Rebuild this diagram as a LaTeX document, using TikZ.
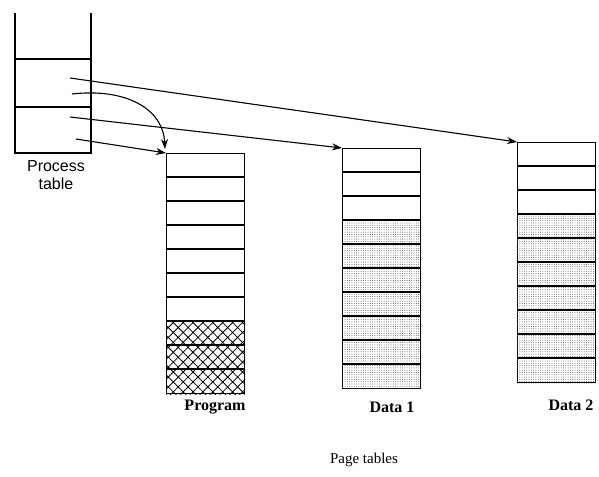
\documentclass[tikz,border=0pt]{standalone}
\usepackage{fontspec}
\setmainfont{Liberation Serif}
\newfontfamily\labelsans{Liberation Sans}
\usetikzlibrary{arrows.meta,patterns.meta,calc}

\begin{document}
\begin{tikzpicture}[x=1pt,y=-1pt]
    \tikzstyle{pagetab} = [rectangle, draw=black, line width=1.2pt, minimum width=78pt, minimum height=240pt, inner sep=0pt, anchor=north west]
    \tikzstyle{row} = [line width=1.1pt]
    \tikzstyle{arrow} = [line width=1.1pt, -{Stealth[length=10pt,width=7pt]}]
    \tikzstyle{hatch} = [pattern={Hatch[angle=45,distance=7pt,line width=0.8pt]}]
    \tikzstyle{stipple} = [pattern={Dots[distance=2.3pt,radius=0.45pt]}, pattern color=black!75]
    \tikzstyle{tablabel} = [font=\fontsize{16}{18}\selectfont\bfseries]

    \useasboundingbox (0,0) rectangle (599,476);

    % Process table
    \draw[line width=1.2pt] (15,13) -- (15,153) -- (91,153) -- (91,13);
    \draw[row] (15,59) -- (91,59);
    \draw[row] (15,107) -- (91,107);
    \node (proclab) [font=\labelsans\fontsize{16}{18}\selectfont, align=center] at (56,175) {Process\\table};

    \coordinate (s1) at (70,78);
    \coordinate (s2) at (72,94);
    \coordinate (s3) at (70,117);
    \coordinate (s4) at (76,139);

    % Page tables
    \node (prog) [pagetab] at (166,153) {};
    \node (data1) [pagetab] at (342,148) {};
    \node (data2) [pagetab] at (517,142) {};

    \fill[hatch] ($(prog.south west)+(0,-72)$) rectangle (prog.south east);
    \fill[stipple] ($(data1.north west)+(0,72)$) rectangle (data1.south east);
    \fill[stipple] ($(data2.north west)+(0,72)$) rectangle (data2.south east);

    \foreach \t in {prog,data1,data2}
        \foreach \i in {1,...,9}
            \draw[row] ($(\t.north west)+(0,24*\i)$) -- ++(78,0);

    \node (proglab) [tablabel] at (215,407) {Program};
    \node (d1lab) [tablabel] at (392,407) {Data 1};
    \node (d2lab) [tablabel] at (571,405) {Data 2};
    \node (pgtabs) [font=\fontsize{15}{18}\selectfont] at (364,460) {Page tables};

    % Pointers
    \coordinate (progtop) at ($(prog.north west)+(-1,-4)$);
    \draw[arrow] (s1) -- (data2.north west);
    \draw[arrow] (s2) .. controls (125,88) and (163,108) .. (progtop);
    \draw[arrow] (s3) -- (data1.north west);
    \draw[arrow] (s4) -- (prog.north west);
\end{tikzpicture}
\end{document}
